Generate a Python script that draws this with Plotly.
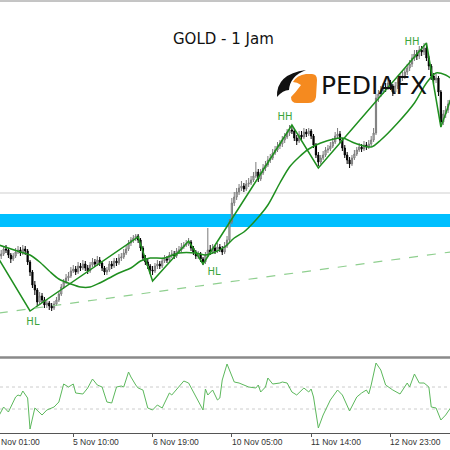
import plotly.graph_objects as go

# ---------------- data ----------------
bar = list(range(2, 191))  # hourly bar index, 0 = 4 Nov 01:00

open_ = [1748,1744,1746,1751,1750,1745,1741,1744,1748,1750,
         1747,1751,1749,1738,1728,1715,1710,1698,1704,1700,
         1695,1697,1694,1692,1696,1700,1706,1713,1718,1722,
         1724,1729,1731,1728,1734,1732,1736,1732,1729,1735,
         1738,1736,1740,1737,1732,1728,1730,1736,1734,1739,
         1737,1742,1743,1747,1751,1757,1760,1762,1764,1760,
         1752,1742,1738,1734,1730,1729,1734,1736,1734,1739,
         1741,1740,1745,1746,1744,1749,1750,1753,1755,1756,
         1758,1752,1748,1744,1746,1741,1738,1745,1750,1748,
         1752,1749,1753,1751,1748,1754,1760,1778,1797,1803,
         1808,1812,1814,1811,1816,1817,1820,1824,1828,1821,
         1827,1832,1835,1840,1842,1847,1850,1854,1856,1860,
         1863,1867,1870,1869,1862,1859,1865,1863,1868,1866,
         1869,1864,1855,1845,1838,1842,1845,1850,1851,1854,
         1858,1864,1866,1860,1852,1845,1840,1836,1842,1846,
         1850,1853,1851,1855,1853,1856,1860,1867,1902,1906,
         1909,1913,1912,1917,1914,1908,1914,1918,1922,1924,
         1928,1932,1936,1942,1946,1944,1950,1948,1952,1942,
         1934,1924,1920,1922,1908,1878,1886,1890,1896]
high = [1752,1750,1754,1755,1752,1747,1747,1752,1754,1753,
        1755,1754,1751,1740,1730,1719,1712,1708,1707,1703,
        1700,1699,1697,1699,1703,1709,1716,1721,1726,1728,
        1733,1735,1734,1738,1737,1740,1739,1735,1738,1742,
        1741,1744,1743,1739,1734,1733,1739,1739,1742,1742,
        1746,1747,1751,1755,1760,1763,1765,1766,1766,1762,
        1754,1745,1741,1736,1734,1737,1740,1739,1742,1745,
        1744,1748,1750,1749,1752,1754,1757,1758,1760,1762,
        1760,1754,1750,1749,1748,1743,1748,1772,1755,1756,
        1755,1757,1756,1754,1758,1764,1781,1802,1808,1812,
        1816,1819,1817,1820,1822,1824,1828,1838,1831,1831,
        1836,1839,1844,1846,1851,1854,1858,1860,1864,1867,
        1871,1875,1874,1871,1865,1869,1869,1872,1871,1872,
        1871,1866,1857,1848,1845,1849,1853,1855,1858,1862,
        1868,1872,1869,1862,1855,1848,1843,1845,1850,1853,
        1857,1856,1859,1858,1860,1864,1872,1906,1910,1914,
        1917,1917,1921,1920,1916,1918,1922,1926,1929,1932,
        1936,1940,1946,1950,1950,1954,1954,1957,1955,1944,
        1936,1927,1926,1924,1910,1890,1894,1900,1904]
low = [1741,1741,1744,1747,1742,1737,1739,1742,1746,1744,
       1745,1745,1735,1724,1712,1705,1694,1695,1697,1692,
       1692,1690,1689,1690,1694,1698,1704,1711,1716,1719,
       1722,1727,1725,1726,1729,1730,1729,1726,1727,1733,
       1733,1734,1734,1729,1725,1725,1728,1731,1732,1734,
       1735,1739,1741,1745,1749,1754,1757,1759,1757,1749,
       1739,1735,1731,1726,1725,1727,1731,1731,1732,1737,
       1737,1738,1742,1741,1742,1746,1748,1751,1753,1754,
       1749,1745,1741,1741,1738,1735,1736,1743,1745,1746,
       1746,1747,1748,1745,1746,1752,1758,1776,1794,1800,
       1805,1809,1808,1809,1813,1815,1818,1822,1818,1819,
       1825,1829,1833,1837,1840,1845,1848,1851,1853,1857,
       1861,1864,1866,1859,1855,1857,1860,1861,1863,1864,
       1861,1852,1842,1834,1836,1840,1843,1847,1849,1852,
       1856,1862,1857,1849,1842,1836,1832,1834,1840,1844,
       1848,1848,1849,1850,1851,1854,1858,1865,1898,1903,
       1906,1908,1910,1910,1904,1906,1911,1915,1919,1921,
       1925,1929,1933,1939,1940,1941,1944,1945,1939,1930,
       1920,1916,1917,1904,1873,1875,1882,1887,1893]
close = [1744,1746,1751,1750,1745,1741,1744,1748,1750,1747,
         1751,1749,1738,1728,1715,1710,1698,1704,1700,1695,
         1697,1694,1692,1696,1700,1706,1713,1718,1722,1724,
         1729,1731,1728,1734,1732,1736,1732,1729,1735,1738,
         1736,1740,1737,1732,1728,1730,1736,1734,1739,1737,
         1742,1743,1747,1751,1757,1760,1762,1764,1760,1752,
         1742,1738,1734,1730,1729,1734,1736,1734,1739,1741,
         1740,1745,1746,1744,1749,1750,1753,1755,1756,1758,
         1752,1748,1744,1746,1741,1738,1745,1750,1748,1752,
         1749,1753,1751,1748,1754,1760,1778,1797,1803,1808,
         1812,1814,1811,1816,1817,1820,1824,1828,1821,1827,
         1832,1835,1840,1842,1847,1850,1854,1856,1860,1863,
         1867,1870,1869,1862,1859,1865,1863,1868,1866,1869,
         1864,1855,1845,1838,1842,1845,1850,1851,1854,1858,
         1864,1866,1860,1852,1845,1840,1836,1842,1846,1850,
         1853,1851,1855,1853,1856,1860,1867,1902,1906,1909,
         1913,1912,1917,1914,1908,1914,1918,1922,1924,1928,
         1932,1936,1942,1946,1944,1950,1948,1952,1942,1934,
         1924,1920,1922,1908,1878,1886,1890,1896,1900]

# moving average (smooth green)
ma_bar = [2, 11, 15, 19, 23, 27, 32, 36, 40, 44, 48, 52, 57, 61, 65, 71, 77, 84, 88, 92,
          96, 100, 104, 109, 114, 119, 123, 127, 131, 136, 145, 150, 157, 161, 168, 175,
          180, 184, 188, 190]
ma_val = [1755, 1748, 1745, 1738, 1729, 1721, 1716, 1713, 1713, 1717, 1722, 1727, 1732,
          1739, 1742, 1742, 1747, 1747, 1745, 1748, 1753, 1762, 1768, 1780, 1795, 1817,
          1833, 1843, 1851, 1857, 1862, 1857, 1853, 1860, 1877, 1897, 1917, 1927, 1925, 1922]

# zigzag pivots
zz_bar = [2, 15, 60, 66, 81, 87, 124, 135, 180, 186, 190]
zz_val = [1741, 1689, 1763, 1719, 1759, 1736, 1875, 1832, 1957, 1873, 1900]

# swing labels
lab_text = ["HL", "HL", "HH", "HH"]
lab_bar = [16.2, 91.6, 121.1, 174.0]
lab_val = [1678, 1728, 1883, 1958]

# rising support (dashed) trendline
trend_bar = [2, 190]
trend_val = [1687, 1748]

# levels
resist_line = 1807
zone_low, zone_high = 1773, 1786

# oscillator
osc_bar = [2, 4, 6, 9, 10, 11, 12, 14, 15, 17, 20, 22, 25, 27, 29, 31, 33, 34, 37, 39,
           41, 43, 45, 47, 49, 51, 53, 54, 56, 57, 59, 60, 62, 64, 66, 68, 70, 73, 74, 77,
           79, 81, 87, 88, 89, 91, 93, 94, 95, 97, 98, 100, 102, 106, 109, 110, 111, 113,
           114, 116, 119, 120, 122, 124, 126, 129, 131, 132, 133, 135, 137, 140, 143, 145,
           148, 151, 153, 155, 156, 157, 159, 161, 163, 166, 169, 172, 173, 175, 177, 179,
           181, 182, 184, 186, 188, 190]
osc_val = [17, 26, 21, 36, 38, 37, 42, 35, 4, 25, 18, 23, 26, 31, 49, 46, 49, 40, 39, 45,
           54, 48, 46, 31, 30, 46, 47, 46, 61, 56, 48, 45, 43, 25, 23, 28, 25, 40, 38, 46,
           52, 50, 23, 44, 38, 43, 33, 35, 53, 69, 63, 51, 50, 46, 45, 48, 41, 46,
           55, 49, 50, 51, 50, 41, 38, 45, 41, 44, 36, 5, 18, 33, 43, 38,
           22, 36, 40, 43, 39, 48, 70, 63, 48, 43, 39, 50, 46, 59, 50, 50,
           46, 26, 25, 13, 18, 25]
osc_levels = [46, 24]

tick_bar = [0, 33, 66, 99, 132, 165]
tick_text = ["4 Nov 01:00", "5 Nov 10:00", "6 Nov 19:00", "10 Nov 05:00",
             "11 Nov 14:00", "12 Nov 23:00"]

# ---------------- figure ----------------
W, H = 450, 450
B = 17
PH = H - B
X_RANGE = [2.5, 189.8]
def px(x, y):
    return x / W, (PH - y) / PH

fig = go.Figure()

ZGREEN = "#1f8f1f"
fig.add_trace(go.Candlestick(
    x=bar, open=open_, high=high, low=low, close=close,
    increasing=dict(line=dict(color="#7a7a7a", width=1), fillcolor="#d9d9d9"),
    decreasing=dict(line=dict(color="#000000", width=1), fillcolor="#000000"),
    whiskerwidth=0, showlegend=False, xaxis="x", yaxis="y"))

fig.add_trace(go.Scatter(x=ma_bar, y=ma_val, mode="lines",
                         line=dict(color=ZGREEN, width=1.5, shape="spline", smoothing=0.8),
                         showlegend=False, xaxis="x", yaxis="y"))
fig.add_trace(go.Scatter(x=zz_bar, y=zz_val, mode="lines",
                         line=dict(color=ZGREEN, width=1.5),
                         showlegend=False, xaxis="x", yaxis="y"))
fig.add_trace(go.Scatter(x=trend_bar, y=trend_val, mode="lines",
                         line=dict(color="#8fcf8f", width=1.2, dash="dash"),
                         showlegend=False, xaxis="x", yaxis="y"))
fig.add_trace(go.Scatter(x=lab_bar, y=lab_val, mode="text", text=lab_text,
                         textfont=dict(family="DejaVu Sans", size=10, color="#3aa53a"),
                         showlegend=False, xaxis="x", yaxis="y"))

fig.add_trace(go.Scatter(x=osc_bar, y=osc_val, mode="lines",
                         line=dict(color="#5cb85c", width=1),
                         showlegend=False, xaxis="x", yaxis="y2"))

shapes = []
shapes.append(dict(type="rect", xref="paper", x0=0, x1=1, yref="y", y0=zone_low, y1=zone_high,
                   fillcolor="#00bfff", line=dict(width=0), layer="below"))
shapes.append(dict(type="line", xref="paper", x0=0, x1=1, yref="y", y0=resist_line, y1=resist_line,
                   line=dict(color="#cfcfcf", width=1), layer="below"))
for lv in osc_levels:
    shapes.append(dict(type="line", xref="paper", x0=0, x1=1, yref="y2", y0=lv, y1=lv,
                       line=dict(color="#cccccc", width=1, dash="dot"), layer="below"))
_, sy = px(0, 357.5)
shapes.append(dict(type="line", xref="paper", yref="paper", x0=0, x1=1, y0=sy, y1=sy,
                   line=dict(color="#8a8a8a", width=2.5)))
_, ty = px(0, 1)
shapes.append(dict(type="line", xref="paper", yref="paper", x0=0, x1=1, y0=ty, y1=ty,
                   line=dict(color="#8a8a8a", width=1)))

def path(pts_cmds):
    out = []
    for cmd, pts in pts_cmds:
        coords = []
        for (x, y) in pts:
            a, b = px(x, y)
            coords.append(f"{a:.5f},{b:.5f}")
        out.append(cmd + " " + " ".join(coords))
    return " ".join(out) + " Z"

orange = path([("M", [(293, 82)]), ("Q", [(297, 75), (306, 74)]),
               ("L", [(312, 74)]), ("Q", [(317, 74), (317, 80)]),
               ("L", [(316, 97)]), ("Q", [(315, 103), (308, 103)]),
               ("L", [(297, 103)]), ("Q", [(291, 103), (291, 97)]),
               ("Q", [(296, 92), (301, 85)]), ("Q", [(297, 82), (293, 82)])])
shapes.append(dict(type="path", xref="paper", yref="paper", path=orange,
                   fillcolor="#f58a1f", line=dict(width=0)))
swoosh = path([("M", [(277, 97)]), ("Q", [(276, 74), (306, 70)]),
               ("Q", [(290, 76), (289, 90)]), ("Q", [(283, 90), (277, 97)])])
shapes.append(dict(type="path", xref="paper", yref="paper", path=swoosh,
                   fillcolor="#111111", line=dict(width=0)))

annotations = []
tx, tyy = px(223, 39)
annotations.append(dict(text="GOLD - 1 Jam", x=tx, y=tyy, xref="paper", yref="paper",
                        showarrow=False, xanchor="center", yanchor="middle",
                        font=dict(family="DejaVu Sans", size=15, color="#111111")))
lx, ly = px(319, 86)
annotations.append(dict(text="PEDIAFX", x=lx, y=ly, xref="paper", yref="paper",
                        showarrow=False, xanchor="left", yanchor="middle",
                        font=dict(family="DejaVu Sans", size=25, color="#111111")))
# MT4-style time labels start at the tick mark (first one partly off-screen)
for tb, tt in zip(tick_bar, tick_text):
    xp = (tb - X_RANGE[0]) / (X_RANGE[1] - X_RANGE[0])
    annotations.append(dict(text=tt, x=xp, y=0, xref="paper", yref="paper",
                            showarrow=False, xanchor="left", yanchor="top",
                            xshift=-2, yshift=-2,
                            font=dict(family="Liberation Sans", size=8.5, color="#333333")))

fig.update_layout(
    width=W, height=H,
    margin=dict(l=0, r=0, t=0, b=B, pad=0),
    paper_bgcolor="white", plot_bgcolor="white",
    showlegend=False,
    xaxis=dict(range=X_RANGE, anchor="y2", showgrid=False, zeroline=False,
               showline=True, linecolor="#555555", linewidth=1,
               tickvals=tick_bar, ticks="outside", ticklen=3, tickcolor="#555555",
               showticklabels=False, rangeslider=dict(visible=False), fixedrange=True),
    yaxis=dict(domain=[px(0, 357)[1], 1], range=[1643, 2000], showgrid=False,
               zeroline=False, showticklabels=False, showline=False),
    yaxis2=dict(domain=[0, px(0, 359)[1]], range=[0, 74], showgrid=False,
                zeroline=False, showticklabels=False, showline=False),
    shapes=shapes, annotations=annotations,
)

fig.write_html("out.html", config={"displayModeBar": False},
               post_script="document.body.style.margin='0';document.body.style.padding='0';document.body.style.overflow='hidden';")
